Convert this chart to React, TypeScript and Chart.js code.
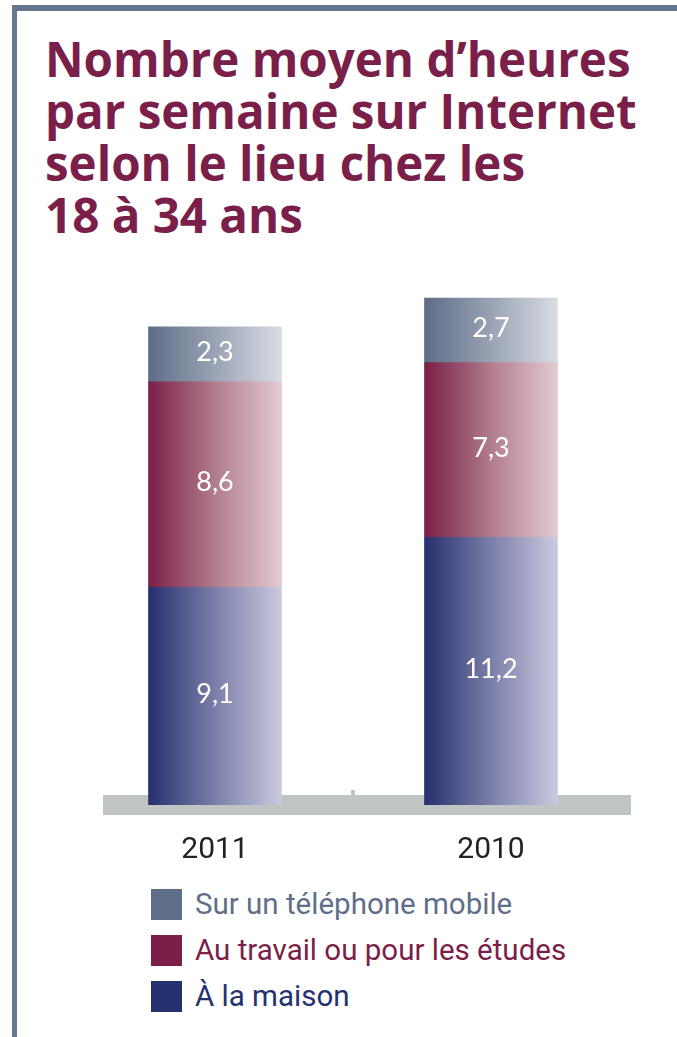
import React, { useEffect, useRef } from "react";
import { Chart, registerables } from "chart.js";

Chart.register(...registerables);

const categories = ["2011", "2010"];
const homeValues = [9.1, 11.2];
const workValues = [8.6, 7.3];
const mobileValues = [2.3, 2.7];
const seriesLabels = ["À la maison", "Au travail ou pour les études", "Sur un téléphone mobile"];
const legendOrder = [2, 1, 0];
const titleLines = ["Nombre moyen d’heures", "par semaine sur Internet", "selon le lieu chez les", "18 à 34 ans"];
const yMax = 22;

const BAR_W = 133;
const gradients = [
  ["#26306f", "#7b7ea8", "#cacadf"],
  ["#7b1e48", "#b07d8b", "#e3ccd1"],
  ["#5d6d87", "#9aa3b4", "#d9dce4"],
];
const solidColors = ["#25316f", "#7b1f48", "#5f6f89"];
const textColors = ["#25316f", "#7b1f48", "#5f6f89"];

const makeBg = (si: number) => (ctx: any) => {
  const chart = ctx.chart;
  const [c0, c1, c2] = gradients[si];
  if (!chart.chartArea || ctx.dataIndex === undefined) return c0;
  const cx = chart.scales.x.getPixelForValue(ctx.dataIndex);
  const g = chart.ctx.createLinearGradient(cx - BAR_W / 2, 0, cx + BAR_W / 2, 0);
  g.addColorStop(0, c0);
  g.addColorStop(0.5, c1);
  g.addColorStop(1, c2);
  return g;
};

const floorPlugin = {
  id: "floor",
  beforeDatasetsDraw(chart: any) {
    const { ctx, chartArea, scales } = chart;
    const y0 = scales.y.getPixelForValue(0);
    ctx.save();
    ctx.fillStyle = "#c0c5c3";
    ctx.fillRect(chartArea.left + 26, y0 - 10, chartArea.right + 2 - (chartArea.left + 26), 20);
    const mid = (scales.x.getPixelForValue(0) + scales.x.getPixelForValue(1)) / 2;
    ctx.fillRect(mid - 2, y0 - 15, 4, 6);
    ctx.restore();
  },
};

const valueLabelPlugin = {
  id: "valueLabels",
  afterDatasetsDraw(chart: any) {
    const { ctx } = chart;
    ctx.save();
    ctx.fillStyle = "#ffffff";
    ctx.font = "27px Lato";
    ctx.textAlign = "center";
    ctx.textBaseline = "middle";
    chart.data.datasets.forEach((ds: any, di: number) => {
      const meta = chart.getDatasetMeta(di);
      meta.data.forEach((el: any, i: number) => {
        const v = ds.data[i];
        const y = (el.y + el.base) / 2 - 2;
        ctx.fillText(String(v).replace(".", ","), el.x, y);
      });
    });
    ctx.restore();
  },
};

export default function App() {
  const canvasRef = useRef<HTMLCanvasElement | null>(null);

  useEffect(() => {
    document.body.style.margin = "0";
    const canvas = canvasRef.current;
    if (!canvas) return;
    const seriesData = [homeValues, workValues, mobileValues];
    const chart = new Chart(canvas, {
      type: "bar",
      data: {
        labels: categories,
        datasets: seriesData.map((d, si) => ({
          label: seriesLabels[si],
          data: d,
          backgroundColor: makeBg(si),
          borderWidth: 0,
          barThickness: BAR_W,
        })),
      },
      options: {
        animation: false,
        responsive: false,
        layout: { padding: { left: 77, right: 48, top: 279, bottom: 0 } },
        plugins: {
          legend: { display: false },
          tooltip: { enabled: false },
          title: { display: false },
        },
        scales: {
          x: {
            stacked: true,
            grid: { display: false, drawTicks: false },
            border: { display: false },
            ticks: {
              color: "#222222",
              font: { family: "Roboto", size: 30 },
              padding: 27,
              maxRotation: 0,
            },
            afterFit: (scale: any) => {
              scale.height = 75;
            },
          },
          y: {
            stacked: true,
            display: false,
            min: 0,
            max: yMax,
          },
        },
      },
      plugins: [floorPlugin, valueLabelPlugin],
    });
    return () => chart.destroy();
  }, []);

  return (
    <div style={{ position: "relative", width: 677, height: 1037, overflow: "hidden", background: "#fff" }}>
      <div
        style={{
          position: "absolute",
          left: 12,
          top: 5,
          right: -10,
          bottom: -10,
          borderTop: "6px solid #66768f",
          borderLeft: "5px solid #66768f",
        }}
      />
      <div
        style={{
          position: "absolute",
          left: 45,
          top: 33,
          fontFamily: "'Open Sans', sans-serif",
          fontWeight: 700,
          fontSize: 47.5,
          lineHeight: "52px",
          color: "#7a1f4a",
          whiteSpace: "pre",
        }}
      >
        {titleLines.map((l) => (
          <div key={l}>{l}</div>
        ))}
      </div>
      <div style={{ position: "absolute", left: 0, top: 0, width: 677, height: 880 }}>
        <canvas ref={canvasRef} width={677} height={880} />
      </div>
      <div style={{ position: "absolute", left: 151, top: 881 }}>
        {legendOrder.map((si) => (
          <div key={si} style={{ display: "flex", alignItems: "center", height: 46 }}>
            <div style={{ width: 31, height: 31, background: solidColors[si], marginRight: 13 }} />
            <span
              style={{
                fontFamily: "Roboto, sans-serif",
                fontSize: 29.5,
                color: textColors[si],
                lineHeight: "34px",
              }}
            >
              {seriesLabels[si]}
            </span>
          </div>
        ))}
      </div>
    </div>
  );
}
